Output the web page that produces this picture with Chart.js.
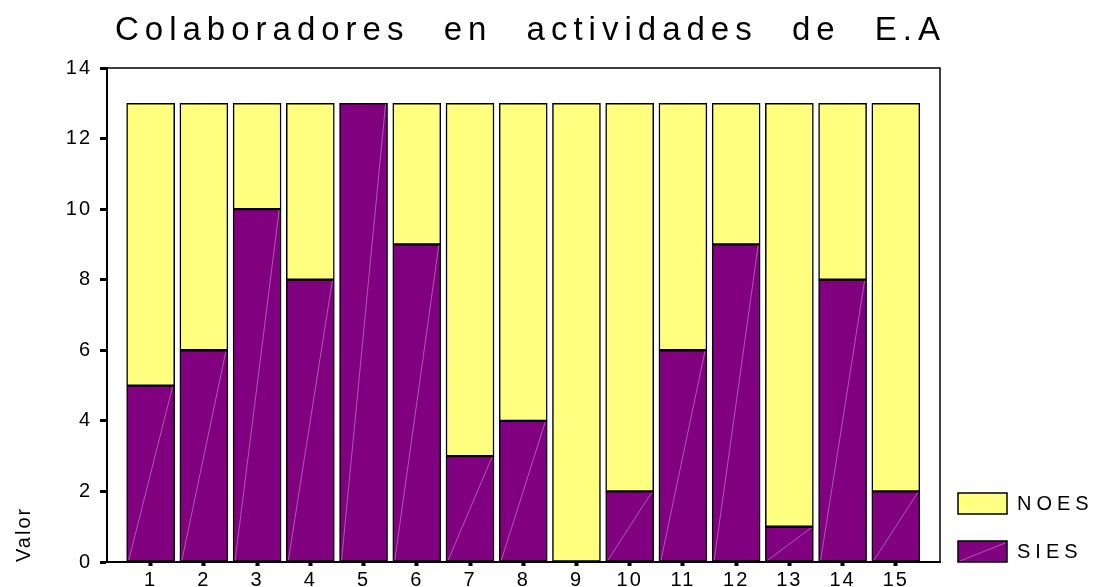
<!DOCTYPE html>
<html>
<head>
<meta charset="utf-8">
<script src="https://cdn.jsdelivr.net/npm/chart.js@4/dist/chart.umd.min.js"></script>
<style>
html, body { margin: 0; padding: 0; background: #fff; }
</style>
</head>
<body>
<canvas id="myChart" width="1106" height="587"></canvas>
<script>
// chart data
var categories = [1, 2, 3, 4, 5, 6, 7, 8, 9, 10, 11, 12, 13, 14, 15];
var sies = [5, 6, 10, 8, 13, 9, 3, 4, 0, 2, 6, 9, 1, 8, 2];
var noes = [8, 7, 3, 5, 0, 4, 10, 9, 13, 11, 7, 4, 12, 5, 11];
var yTicks = [0, 2, 4, 6, 8, 10, 12, 14];
var titleText = 'Colaboradores en actividades de E.A';
var yTitle = 'Valor';

var FONT = '"Liberation Sans", Arial, sans-serif';

function points(values) {
    return categories.map(function (c, i) { return { x: c, y: values[i] }; });
}

// title with wide letter/word spacing, stretched over the plot width
var titlePlugin = {
    id: 'wideTitle',
    afterDraw: function (chart) {
        var ctx = chart.ctx, area = chart.chartArea;
        ctx.save();
        ctx.font = '33px ' + FONT;
        ctx.letterSpacing = '0px';
        ctx.wordSpacing = '0px';
        var w0 = ctx.measureText(titleText).width;
        var left = area.left + 8;
        var ls = 6;
        var nSpaces = titleText.split(' ').length - 1;
        var ws = (area.right - left - w0 - ls * (titleText.length - 1)) / nSpaces;
        ctx.letterSpacing = ls + 'px';
        ctx.wordSpacing = ws + 'px';
        ctx.fillStyle = '#000';
        ctx.textAlign = 'left';
        ctx.textBaseline = 'alphabetic';
        ctx.fillText(titleText, left, 40);
        ctx.restore();
    }
};

// top and right sides of the plot frame + faint diagonals in the bars
var framePlugin = {
    id: 'frame',
    beforeDraw: function (chart) { chart.ctx.letterSpacing = '2px'; },
    afterDatasetsDraw: function (chart) {
        var ctx = chart.ctx, a = chart.chartArea;
        ctx.save();
        var meta = chart.getDatasetMeta(0);
        ctx.strokeStyle = 'rgba(255,255,255,0.35)';
        ctx.lineWidth = 1;
        meta.data.forEach(function (bar) {
            if (bar.base - bar.y < 2) return;
            ctx.beginPath();
            ctx.moveTo(bar.x - bar.width / 2 + 2, bar.base - 1);
            ctx.lineTo(bar.x + bar.width / 2 - 2, bar.y + 1);
            ctx.stroke();
        });
        ctx.strokeStyle = '#000';
        ctx.lineWidth = 1.5;
        ctx.beginPath();
        ctx.moveTo(a.left, a.top);
        ctx.lineTo(a.right, a.top);
        ctx.lineTo(a.right, a.bottom);
        ctx.stroke();
        ctx.restore();
    },
    afterDraw: function (chart) { chart.ctx.letterSpacing = '0px'; }
};

// legend at the lower right, NOES above SIES
var legendPlugin = {
    id: 'sideLegend',
    afterDraw: function (chart) {
        var ctx = chart.ctx, a = chart.chartArea;
        var sets = chart.data.datasets.slice().reverse();
        ctx.save();
        sets.forEach(function (ds, i) {
            var bx = a.right + 18;
            var by = a.bottom - 21 - (sets.length - 1 - i) * 48;
            ctx.fillStyle = ds.backgroundColor;
            ctx.fillRect(bx, by, 49, 21);
            ctx.strokeStyle = '#000';
            ctx.lineWidth = 1.5;
            ctx.strokeRect(bx, by, 49, 21);
            ctx.strokeStyle = 'rgba(255,255,255,0.35)';
            ctx.lineWidth = 1;
            ctx.beginPath();
            ctx.moveTo(bx + 2, by + 20);
            ctx.lineTo(bx + 47, by + 2);
            ctx.stroke();
            ctx.fillStyle = '#000';
            ctx.font = '20px ' + FONT;
            ctx.letterSpacing = '5px';
            ctx.textAlign = 'left';
            ctx.textBaseline = 'middle';
            ctx.fillText(ds.label, bx + 59, by + 11);
        });
        ctx.restore();
    }
};

var ctx = document.getElementById('myChart');
var myChart = new Chart(ctx, {
    type: 'bar',
    data: {
        datasets: [{
            label: 'SIES',
            data: points(sies),
            backgroundColor: '#800080',
            borderColor: '#000',
            borderWidth: 1.5,
            borderSkipped: false,
            barThickness: 48
        }, {
            label: 'NOES',
            data: points(noes),
            backgroundColor: '#FFFF80',
            borderColor: '#000',
            borderWidth: 1.5,
            borderSkipped: false,
            barThickness: 48
        }]
    },
    options: {
        responsive: false,
        animation: false,
        layout: { padding: { left: 0, top: 68, right: 166, bottom: 0 } },
        plugins: {
            legend: { display: false },
            title: { display: false },
            tooltip: { enabled: false }
        },
        scales: {
            x: {
                type: 'linear',
                stacked: true,
                offset: false,
                min: 0.18,
                max: 15.83,
                afterBuildTicks: function (axis) {
                    axis.ticks = categories.map(function (c) { return { value: c }; });
                },
                afterFit: function (axis) { axis.height = 25; },
                grid: { offset: false, drawOnChartArea: false, color: '#000', tickLength: 4, tickWidth: 4 },
                border: { color: '#000', width: 2 },
                ticks: { color: '#000', font: { family: FONT, size: 20 }, padding: 2, maxRotation: 0, autoSkip: false }
            },
            y: {
                stacked: true,
                min: 0,
                max: 14,
                afterBuildTicks: function (axis) {
                    axis.ticks = yTicks.map(function (v) { return { value: v }; });
                },
                afterFit: function (axis) { axis.width = 107; },
                grid: { drawOnChartArea: false, color: '#000', tickLength: 7, tickWidth: 3 },
                border: { color: '#000', width: 2 },
                ticks: { color: '#000', font: { family: FONT, size: 20 }, padding: 8 },
                title: {
                    display: true,
                    text: yTitle,
                    align: 'start',
                    color: '#000',
                    font: { family: FONT, size: 20 },
                    padding: { top: 12, bottom: 0 }
                }
            }
        }
    },
    plugins: [framePlugin, titlePlugin, legendPlugin]
});
</script>
</body>
</html>
